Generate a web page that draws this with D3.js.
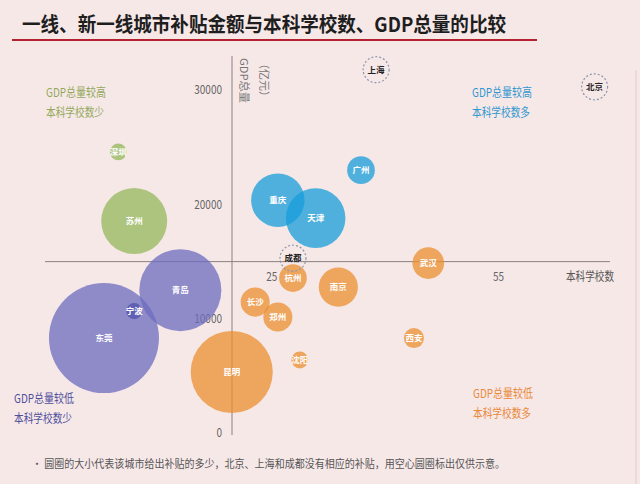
<!DOCTYPE html>
<html><head><meta charset="utf-8">
<script src="https://cdn.jsdelivr.net/npm/d3@7"></script>
<style>
html,body{margin:0;padding:0;background:#f7e8e8;}
svg{display:block;}
text{font-family:"Noto Sans CJK SC","Noto Sans",sans-serif;}
</style></head>
<body>
<script>
// ---- data ----
const cities   = ["深圳","苏州","重庆","天津","广州","青岛","东莞","宁波","昆明","杭州","南京","武汉","长沙","郑州","沈阳","西安"];
const schools  = [4.7, 6.8, 25.8, 30.8, 36.8, 12.9, 2.8, 6.8, 19.7, 27.8, 33.8, 45.7, 22.8, 25.8, 28.7, 43.8];
const gdp      = [24600, 18550, 20380, 18810, 23010, 12500, 8310, 10670, 5340, 13560, 12770, 14870, 11460, 10150, 6390, 8310];
const subsidy  = [0.7, 10.8, 7.1, 8.8, 1.9, 16.7, 30, 0.64, 16.7, 1.9, 3.8, 2.5, 2.1, 2.1, 0.7, 1.0];
const group    = ["hl","hl","hh","hh","hh","ll","ll","ll","lh","lh","lh","lh","lh","lh","lh","lh"];
const noSubCities  = ["上海","北京","成都"];
const noSubSchools = [38.8, 67.7, 27.8];
const noSubGdp     = [31800, 30300, 15300];
const xTicks = [25, 55];
const yTicks = [0, 10000, 20000, 30000];

const W = 640, H = 484;
const colors = {hl:"rgb(148,184,92)", hh:"rgb(23,157,217)", ll:"rgb(108,108,191)", lh:"rgb(235,143,48)"};

function condense(sel, f) {
  sel.each(function () {
    const w = this.getComputedTextLength();
    d3.select(this).attr("textLength", w * f).attr("lengthAdjust", "spacingAndGlyphs");
  });
  return sel;
}
function fitTo(sel, w) {
  return sel.attr("textLength", w).attr("lengthAdjust", "spacingAndGlyphs");
}

const svg = d3.select("body").append("svg").attr("width", W).attr("height", H);
svg.append("rect").attr("width", W).attr("height", H).attr("fill", "#f7e8e8");

// title
svg.append("text").attr("x", 22).attr("y", 32)
  .attr("font-size", 20).attr("font-weight", "bold").attr("fill", "#1e1e1e")
  .attr("textLength", 484).attr("lengthAdjust", "spacingAndGlyphs")
  .text("一线、新一线城市补贴金额与本科学校数、GDP总量的比较");
svg.append("line").attr("x1", 12).attr("x2", 537).attr("y1", 40).attr("y2", 40)
  .attr("stroke", "#b3222e").attr("stroke-width", 2);

// right faint border
svg.append("line").attr("x1", 636).attr("x2", 636).attr("y1", 70).attr("y2", H)
  .attr("stroke", "#e2cccc").attr("stroke-width", 1);

// scales
const x = d3.scaleLinear().domain([-5, 70]).range([45, 612]);
const y = d3.scaleLinear().domain([0, 33000]).range([433, 56]);
const r = d3.scaleSqrt().domain([0, 30]).range([0, 55]);
const xCross = 20, yCross = 15000;

// axes lines
const axisColor = "#8c7f80";
svg.append("line").attr("x1", x(-5)).attr("x2", 610).attr("y1", y(yCross)).attr("y2", y(yCross))
  .attr("stroke", axisColor).attr("stroke-width", 1);
svg.append("line").attr("x1", x(xCross) - 2).attr("x2", x(xCross) - 2).attr("y1", y(33000)).attr("y2", y(0) + 2)
  .attr("stroke", axisColor).attr("stroke-width", 1);

// y tick labels
condense(svg.selectAll(".yt").data(yTicks).enter().append("text")
  .attr("x", 222).attr("y", d => y(d) + 4).attr("text-anchor", "end")
  .attr("font-size", 12.5).attr("fill", "#666").text(d => d), 0.8);
// x tick labels
condense(svg.selectAll(".xt").data(xTicks).enter().append("text")
  .attr("x", d => x(d)).attr("y", 281).attr("text-anchor", "middle")
  .attr("font-size", 12.5).attr("fill", "#666").text(d => d), 0.8);
fitTo(svg.append("text").attr("x", 566).attr("y", 281)
  .attr("font-size", 12).attr("fill", "#555").text("本科学校数"), 48);

// y axis title (vertical)
fitTo(svg.append("text").attr("transform", "translate(240,58) rotate(90)")
  .attr("font-size", 11).attr("fill", "#777").text("GDP总量"), 45);
fitTo(svg.append("text").attr("transform", "translate(260,58) rotate(90)")
  .attr("font-size", 11).attr("fill", "#777").text("（亿元）"), 44);

// bubbles
const data = cities.map((c, i) => ({c, x: schools[i], y: gdp[i], s: subsidy[i], g: group[i]}));
const gB = svg.append("g");
gB.selectAll("circle").data(data).enter().append("circle")
  .attr("cx", d => x(d.x)).attr("cy", d => y(d.y)).attr("r", d => r(d.s))
  .attr("fill", d => d.c === "宁波" ? "#5f5fb3" : colors[d.g])
  .attr("fill-opacity", d => d.c === "宁波" ? 1 : 0.75);
gB.selectAll("text").data(data).enter().append("text")
  .attr("x", d => x(d.x)).attr("y", d => y(d.y) + 3).attr("text-anchor", "middle")
  .attr("font-size", 8.5).attr("font-weight", "bold").attr("fill", "#fff").text(d => d.c);

// empty circles
const empty = noSubCities.map((c, i) => ({c, x: noSubSchools[i], y: noSubGdp[i]}));
svg.selectAll(".ec").data(empty).enter().append("circle")
  .attr("cx", d => x(d.x)).attr("cy", d => y(d.y)).attr("r", 13)
  .attr("fill", "none").attr("stroke", "#8a96aa").attr("stroke-width", 1.2).attr("stroke-dasharray", "2,2");
svg.selectAll(".et").data(empty).enter().append("text")
  .attr("x", d => x(d.x)).attr("y", d => y(d.y) + 3).attr("text-anchor", "middle")
  .attr("font-size", 8.5).attr("font-weight", "bold").attr("fill", "#222").text(d => d.c);

// quadrant labels
const quads = [
  {x: 46, y: 97, c: "#93a85a", t: ["GDP总量较高", "本科学校数少"]},
  {x: 472, y: 97, c: "#2f97cf", t: ["GDP总量较高", "本科学校数多"]},
  {x: 14, y: 403, c: "#4f4f9c", t: ["GDP总量较低", "本科学校数少"]},
  {x: 473, y: 398, c: "#e8893a", t: ["GDP总量较低", "本科学校数多"]}
];
quads.forEach(q => {
  q.t.forEach((s, i) => {
    fitTo(svg.append("text").attr("x", q.x).attr("y", q.y + i * 20)
      .attr("font-size", 12).attr("fill", q.c).text(s), i === 0 ? 60 : 58);
  });
});

// footnote
fitTo(svg.append("text").attr("x", 32).attr("y", 468).attr("font-size", 11).attr("fill", "#555")
  .text("• 圆圈的大小代表该城市给出补贴的多少，北京、上海和成都没有相应的补贴，用空心圆圈标出仅供示意。"), 473);
</script>
</body></html>
